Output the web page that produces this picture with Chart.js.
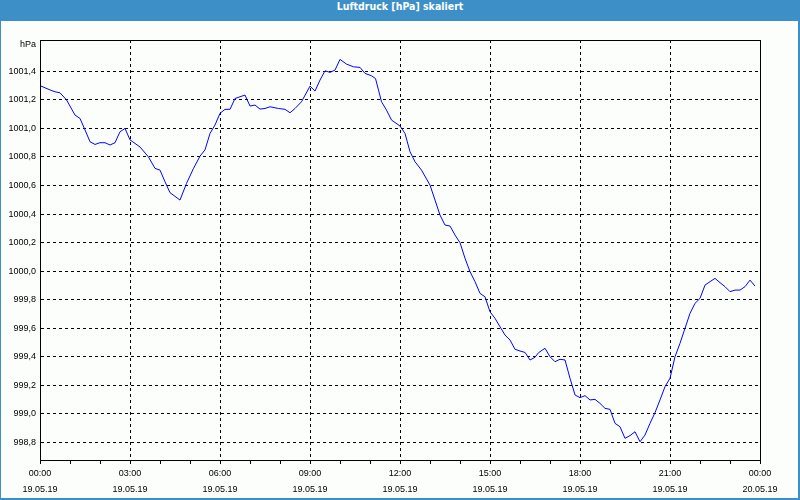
<!DOCTYPE html>
<html>
<head>
<meta charset="utf-8">
<script src="https://cdn.jsdelivr.net/npm/chart.js@4"></script>
<style>
  body { margin: 0; background: #3d8fc7; }
  #wrap { position: relative; width: 800px; height: 500px; overflow: hidden; }
  #frame { position: absolute; left: 1px; top: 21px; width: 797px; height: 477px; background: #fcfefc; }
  #title { position: absolute; left: 0; top: 0; width: 800px; height: 21px; line-height: 20px;
           text-align: center; color: #fff; font: bold 10.5px "DejaVu Sans Condensed", "DejaVu Sans", sans-serif; }
  #chart { position: absolute; left: 0; top: 0; }
</style>
</head>
<body>
<div id="wrap">
  <div id="frame"></div>
  <div id="title">Luftdruck [hPa] skaliert</div>
  <canvas id="chart" width="800" height="500"></canvas>
</div>
<script>
// minutes since 19.05.19 00:00
const times = [0, 20, 30, 40, 53, 70, 80, 90, 100, 110, 120, 130, 140, 150, 160, 170, 180, 190, 200, 217,
  230, 240, 250, 260, 280, 293, 307, 320, 330, 340, 350, 360, 370, 380, 390, 410, 420, 430, 440, 450,
  460, 477, 490, 500, 510, 523, 540, 550, 560, 570, 580, 590, 600, 613, 627, 640, 650, 663, 671, 677,
  683, 693, 703, 720, 730, 740, 750, 763, 780, 790, 800, 810, 820, 830, 840, 850, 860, 870, 880, 890,
  900, 910, 920, 930, 940, 950, 960, 970, 980, 990, 997, 1010, 1020, 1030, 1040, 1050, 1060, 1070, 1080, 1090,
  1100, 1110, 1120, 1130, 1140, 1150, 1160, 1170, 1180, 1190, 1200, 1210, 1220, 1230, 1240, 1250, 1260, 1270, 1280, 1290,
  1300, 1310, 1320, 1330, 1340, 1350, 1360, 1370, 1380, 1390, 1400, 1410, 1420, 1430];

const pressure = [1001.30, 1001.27, 1001.257, 1001.25, 1001.20, 1001.094, 1001.07, 1000.99, 1000.907, 1000.888,
  1000.90, 1000.90, 1000.884, 1000.90, 1000.977, 1001.00, 1000.92, 1000.895, 1000.87, 1000.80,
  1000.72, 1000.708, 1000.626, 1000.55, 1000.498, 1000.615, 1000.72, 1000.806, 1000.85, 1000.965,
  1001.024, 1001.106, 1001.134, 1001.134, 1001.21, 1001.234, 1001.157, 1001.164, 1001.136, 1001.14,
  1001.152, 1001.14, 1001.134, 1001.11, 1001.14, 1001.187, 1001.297, 1001.262, 1001.339, 1001.404,
  1001.393, 1001.409, 1001.484, 1001.451, 1001.432, 1001.428, 1001.386, 1001.369, 1001.35, 1001.269,
  1001.187, 1001.129, 1001.059, 1001.017, 1000.965, 1000.837, 1000.767, 1000.708, 1000.603, 1000.498,
  1000.393, 1000.323, 1000.316, 1000.253, 1000.199, 1000.09, 999.996, 999.926, 999.844, 999.82,
  999.715, 999.669, 999.61, 999.552, 999.517, 999.452, 999.44, 999.43, 999.377, 999.396,
  999.428, 999.459, 999.40, 999.365, 999.382, 999.377, 999.249, 999.132, 999.113, 999.127,
  999.097, 999.101, 999.073, 999.038, 999.031, 998.933, 998.909, 998.828, 998.847, 998.874,
  998.804, 998.851, 998.933, 999.008, 999.097, 999.19, 999.249, 999.40, 999.494, 999.599,
  999.704, 999.774, 999.809, 999.902, 999.926, 999.949, 999.919, 999.891, 999.856, 999.867,
  999.867, 999.891, 999.937, 999.895];

const yTicks = [998.8, 999.0, 999.2, 999.4, 999.6, 999.8, 1000.0, 1000.2, 1000.4, 1000.6, 1000.8, 1001.0, 1001.2, 1001.4];
const xTickTimes = ['00:00', '03:00', '06:00', '09:00', '12:00', '15:00', '18:00', '21:00', '00:00'];
const xTickDates = ['19.05.19', '19.05.19', '19.05.19', '19.05.19', '19.05.19', '19.05.19', '19.05.19', '19.05.19', '20.05.19'];

const font = { family: 'Liberation Sans', size: 9, lineHeight: 16 / 9 };

const frameBox = {
  id: 'frameBox',
  afterDraw(chart) {
    const { ctx, chartArea: a } = chart;
    ctx.save();
    ctx.strokeStyle = '#000';
    ctx.lineWidth = 1;
    ctx.setLineDash([]);
    ctx.strokeRect(Math.round(a.left) + 0.5, Math.round(a.top) + 0.5,
      Math.round(a.right - a.left), Math.round(a.bottom - a.top));
    ctx.fillStyle = '#000';
    ctx.font = '9px "Liberation Sans"';
    ctx.textAlign = 'right';
    ctx.textBaseline = 'middle';
    ctx.fillText('hPa', a.left - 4, a.top + 5);
    ctx.restore();
  }
};

new Chart(document.getElementById('chart'), {
  type: 'line',
  data: {
    datasets: [{
      data: times.map((t, i) => ({ x: t, y: pressure[i] })),
      borderColor: '#0000ff',
      borderWidth: 1,
      pointRadius: 0,
      tension: 0,
      fill: false
    }]
  },
  options: {
    responsive: false,
    animation: false,
    layout: { padding: { left: 0, right: 40, top: 40, bottom: 0 } },
    plugins: { legend: { display: false }, tooltip: { enabled: false } },
    scales: {
      x: {
        type: 'linear',
        min: 0,
        max: 1440,
        afterFit(s) { s.height = 40; },
        ticks: {
          stepSize: 60,
          autoSkip: false,
          maxRotation: 0,
          padding: 2,
          color: '#000',
          font: font,
          callback(v) {
            if (v % 180 !== 0) return '';
            const i = v / 180;
            return [xTickTimes[i], xTickDates[i]];
          }
        },
        grid: {
          color: c => (c.tick && c.tick.value % 180 === 0) ? '#000' : 'rgba(0,0,0,0)',
          tickColor: '#000',
          tickLength: 4,
          tickBorderDash: [],
          lineWidth: 1
        },
        border: { display: true, color: '#000', dash: [3, 3] }
      },
      y: {
        min: 998.676,
        max: 1001.62,
        afterFit(s) { s.width = 40; },
        afterBuildTicks(s) { s.ticks = yTicks.map(v => ({ value: v })); },
        ticks: {
          padding: 4,
          color: '#000',
          font: font,
          callback: v => v.toFixed(1).replace('.', ',')
        },
        grid: { color: '#000', drawTicks: false, lineWidth: 1 },
        border: { display: true, color: '#000', dash: [3, 3] }
      }
    }
  },
  plugins: [frameBox]
});
</script>
</body>
</html>
